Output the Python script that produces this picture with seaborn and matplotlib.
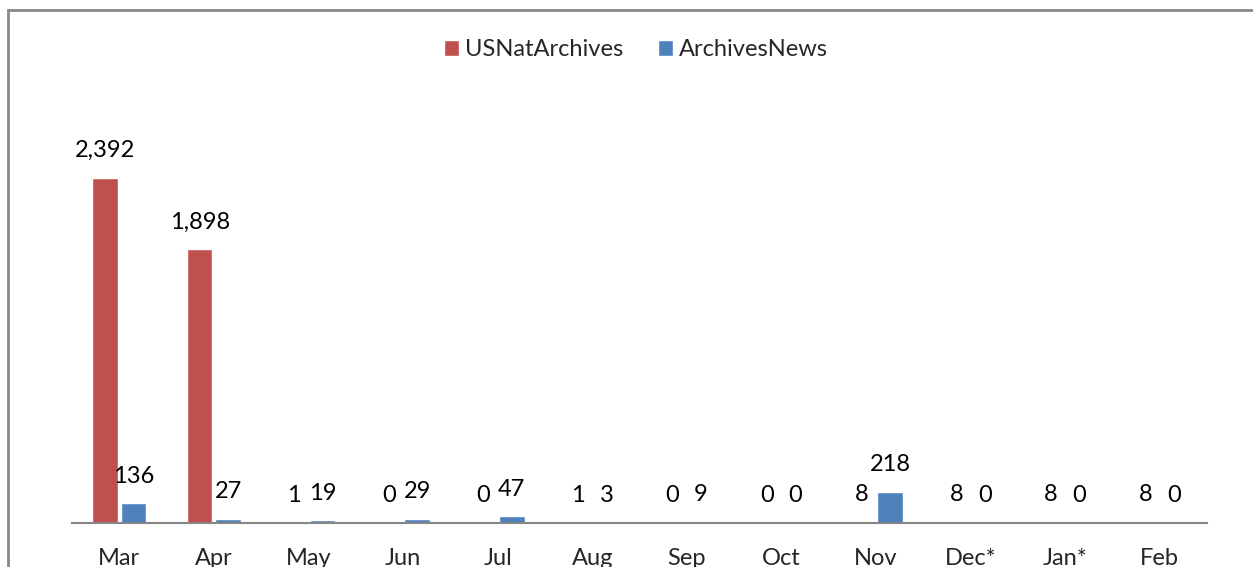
import pandas as pd
import matplotlib
matplotlib.use("Agg")
import matplotlib.pyplot as plt
import seaborn as sns
from matplotlib.patches import Rectangle

# ------------------- данные -------------------
months = ['Mar', 'Apr', 'May', 'Jun', 'Jul', 'Aug', 'Sep', 'Oct', 'Nov', 'Dec*', 'Jan*', 'Feb']
usnat = [2392, 1898, 1, 0, 0, 1, 0, 0, 8, 8, 8, 8]
archives_news = [136, 27, 19, 29, 47, 3, 9, 0, 218, 0, 0, 0]
series_names = ['USNatArchives', 'ArchivesNews']
colors = ['#C0504D', '#4F81BD']

df = pd.DataFrame({
    'month': months * 2,
    'value': usnat + archives_news,
    'series': [series_names[0]] * len(months) + [series_names[1]] * len(months),
})

sns.set_style('white')
plt.rcParams['font.family'] = ['Lato', 'DejaVu Sans']
FS = 17

fig = plt.figure(figsize=(12.53, 5.67), dpi=100)
ax = fig.add_axes([72 / 1253, 44 / 567, (1207 - 72) / 1253, (523 - 90) / 567])

sns.barplot(data=df, x='month', y='value', hue='series', palette=colors,
            width=0.6, gap=0.1, saturation=1, ax=ax, legend=True)

for cont in ax.containers:
    ax.bar_label(cont, labels=[f'{v:,.0f}' for v in cont.datavalues],
                 padding=12, fontsize=FS, color='black')

ax.set_ylim(0, 3000)
ax.set_xlim(-0.5, len(months) - 0.5)
ax.set_xlabel('')
ax.set_ylabel('')
ax.set_yticks([])
ax.tick_params(axis='x', length=0, pad=18, labelsize=FS)
for side in ['top', 'right', 'left']:
    ax.spines[side].set_visible(False)
ax.spines['bottom'].set_color('#868686')
ax.spines['bottom'].set_linewidth(1.5)

leg = ax.legend(loc='center', frameon=False, ncol=2, fontsize=FS,
                handlelength=0.64, handleheight=0.64,
                handletextpad=0.25, columnspacing=1.5,
                bbox_to_anchor=(636 / 1253, 1 - 50 / 567),
                bbox_transform=fig.transFigure)

# рамка диаграммы
fig.patches.append(Rectangle((7.5 / 1253, -0.1), 1.2, 1 - 10 / 567 + 0.1,
                             transform=fig.transFigure, fill=False,
                             edgecolor='#888888', linewidth=2, clip_on=False))

fig.savefig('out.png', dpi=100, facecolor='white')
